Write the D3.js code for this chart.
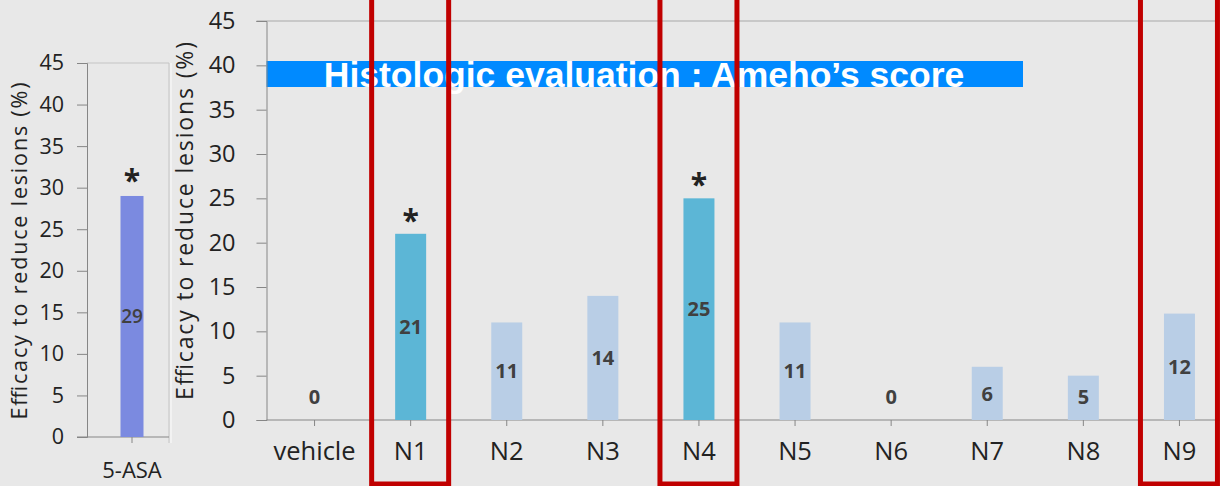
<!DOCTYPE html>
<html>
<head>
<meta charset="utf-8">
<script src="https://cdn.jsdelivr.net/npm/d3@7"></script>
<style>
  html, body { margin: 0; padding: 0; background: #e8e8e8; }
  svg { display: block; }
</style>
</head>
<body>
<div id="chart"></div>
<script>
// reference panel (5-ASA)
const refCategories = ["5-ASA"];
const refValues = [29];
const refSignificant = ["5-ASA"];

// main panel
const categories = ["vehicle", "N1", "N2", "N3", "N4", "N5", "N6", "N7", "N8", "N9"];
const values = [0, 21, 11, 14, 25, 11, 0, 6, 5, 12];
const significant = ["N1", "N4"];
const highlighted = ["N1", "N4", "N9"];
const yTicks = [0, 5, 10, 15, 20, 25, 30, 35, 40, 45];

const titleText = "Histologic evaluation : Ameho\u2019s score";
const axisTitle = "Efficacy to reduce lesions (%)";

const W = 1220, H = 486;
const axisColor = "#868686";
const font = "'Open Sans', Lato, sans-serif";

const svg = d3.select("#chart").append("svg")
    .attr("width", W).attr("height", H);

svg.append("rect").attr("width", W).attr("height", H).attr("fill", "#e8e8e8");

// ---------- left small chart ----------
const yL = d3.scaleLinear().domain([0, 45]).range([437, 63]);
const xL = d3.scaleBand().domain(refCategories).range([95, 169]);
const leftX0 = 87, leftX1 = 169;

const gl = svg.append("g");

// frame (top + right lighter)
gl.append("line").attr("x1", leftX0).attr("x2", leftX1).attr("y1", yL(45)).attr("y2", yL(45))
    .attr("stroke", "#c4c4c4");
gl.append("line").attr("x1", leftX1).attr("x2", leftX1).attr("y1", yL(45)).attr("y2", yL(0) + 6)
    .attr("stroke", "#c4c4c4");

const yAxisL = gl.append("g")
    .attr("transform", `translate(${leftX0},0)`)
    .call(d3.axisLeft(yL).tickValues(yTicks).tickSize(10).tickPadding(13));
yAxisL.select(".domain").attr("stroke", axisColor);
yAxisL.selectAll(".tick line").attr("stroke", axisColor);
yAxisL.selectAll(".tick text").attr("font-family", font).attr("font-size", 21.5).attr("fill", "#222");

gl.append("line").attr("x1", leftX0 - 10).attr("x2", leftX1).attr("y1", yL(0)).attr("y2", yL(0))
    .attr("stroke", axisColor);

gl.selectAll(".xtick").data(refCategories).enter().append("line")
    .attr("x1", d => xL(d) + xL.bandwidth() / 2).attr("x2", d => xL(d) + xL.bandwidth() / 2)
    .attr("y1", yL(0)).attr("y2", yL(0) + 6).attr("stroke", axisColor);

gl.selectAll(".xlab").data(refCategories).enter().append("text")
    .attr("x", d => xL(d) + xL.bandwidth() / 2).attr("y", 478)
    .attr("text-anchor", "middle").attr("font-family", font).attr("font-size", 22).attr("fill", "#222")
    .text(d => d);

const refBarW = 23;
gl.selectAll(".bar").data(refCategories).enter().append("rect")
    .attr("x", d => xL(d) + xL.bandwidth() / 2 - refBarW / 2)
    .attr("width", refBarW)
    .attr("y", (d, i) => yL(refValues[i]))
    .attr("height", (d, i) => yL(0) - yL(refValues[i]))
    .attr("fill", "#7b8ae0");

gl.selectAll(".val").data(refCategories).enter().append("text")
    .attr("x", d => xL(d) + xL.bandwidth() / 2)
    .attr("y", (d, i) => yL(refValues[i] / 2))
    .attr("dy", "0.36em")
    .attr("text-anchor", "middle").attr("font-family", font).attr("font-size", 19)
    .attr("font-weight", 600).attr("fill", "#404040")
    .text((d, i) => refValues[i]);

gl.selectAll(".star").data(refCategories.filter(d => refSignificant.includes(d))).enter().append("text")
    .attr("x", d => xL(d) + xL.bandwidth() / 2)
    .attr("y", d => yL(refValues[refCategories.indexOf(d)]) - 5)
    .attr("text-anchor", "middle").attr("font-family", font).attr("font-size", 30)
    .attr("font-weight", 700).attr("fill", "#222")
    .text("*");

gl.append("text")
    .attr("transform", `translate(27,251) rotate(-90)`)
    .attr("text-anchor", "middle").attr("font-family", font).attr("font-size", 21.5).attr("fill", "#222")
    .attr("textLength", 337).attr("lengthAdjust", "spacing")
    .text(axisTitle);

// faint separator between the two panels
svg.append("line").attr("x1", 171).attr("x2", 171).attr("y1", 63).attr("y2", 443)
    .attr("stroke", "#f6f6f6").attr("stroke-width", 1.5);

// ---------- main chart ----------
const plotX0 = 266.5;
const y = d3.scaleLinear().domain([0, 45]).range([420, 21]);
const x = d3.scaleBand().domain(categories).range([plotX0, plotX0 + 961]);
const cx = d => x(d) + x.bandwidth() / 2;

const g = svg.append("g");

// title banner
g.append("rect").attr("x", plotX0).attr("y", 61).attr("width", 1023 - plotX0).attr("height", 26)
    .attr("fill", "#008aff");

// top line
g.append("line").attr("x1", plotX0 - 10).attr("x2", W).attr("y1", y(45)).attr("y2", y(45))
    .attr("stroke", "#a8a8a8");

const yAxis = g.append("g")
    .attr("transform", `translate(${plotX0},0)`)
    .call(d3.axisLeft(y).tickValues(yTicks).tickSize(10).tickPadding(21));
yAxis.select(".domain").attr("stroke", axisColor);
yAxis.selectAll(".tick line").attr("stroke", axisColor);
yAxis.selectAll(".tick text").attr("font-family", font).attr("font-size", 23.5).attr("fill", "#222");

const xAxis = g.append("g")
    .attr("transform", `translate(0,${y(0)})`)
    .call(d3.axisBottom(x).tickSize(6).tickPadding(16));
xAxis.select(".domain").remove();
xAxis.selectAll(".tick line").attr("stroke", axisColor);
xAxis.selectAll(".tick text").attr("font-family", font).attr("font-size", 25.5).attr("fill", "#222");
g.append("line").attr("x1", plotX0).attr("x2", W).attr("y1", y(0)).attr("y2", y(0))
    .attr("stroke", axisColor);

const barW = 31;
g.selectAll(".bar").data(categories).enter().append("rect")
    .attr("x", d => cx(d) - barW / 2)
    .attr("width", barW)
    .attr("y", (d, i) => y(values[i]))
    .attr("height", (d, i) => y(0) - y(values[i]))
    .attr("fill", d => significant.includes(d) ? "#5cb6d6" : "#b9cee6");

g.selectAll(".val").data(categories).enter().append("text")
    .attr("x", cx)
    .attr("y", (d, i) => Math.min(y(values[i] / 2), y(0) - 23))
    .attr("dy", "0.36em")
    .attr("text-anchor", "middle").attr("font-family", font).attr("font-size", 20)
    .attr("font-weight", 700).attr("fill", "#404040")
    .text((d, i) => values[i]);

g.selectAll(".star").data(significant).enter().append("text")
    .attr("x", cx)
    .attr("y", d => y(values[categories.indexOf(d)]) - 3)
    .attr("text-anchor", "middle").attr("font-family", font).attr("font-size", 30)
    .attr("font-weight", 700).attr("fill", "#222")
    .text("*");

g.append("text")
    .attr("transform", `translate(193,221) rotate(-90)`)
    .attr("text-anchor", "middle").attr("font-family", font).attr("font-size", 23).attr("fill", "#222")
    .attr("textLength", 358).attr("lengthAdjust", "spacing")
    .text(axisTitle);

g.append("text")
    .attr("x", 644).attr("y", 87)
    .attr("text-anchor", "middle")
    .attr("font-family", "'Liberation Sans', Arial, sans-serif")
    .attr("font-size", 35.5).attr("font-weight", 700).attr("fill", "#fff")
    .text(titleText);

// red highlight boxes
g.selectAll(".box").data(highlighted).enter().append("rect")
    .attr("x", d => cx(d) - 39)
    .attr("y", -10)
    .attr("width", 77)
    .attr("height", 494)
    .attr("fill", "none")
    .attr("stroke", "#c00000")
    .attr("stroke-width", 5);
</script>
</body>
</html>
